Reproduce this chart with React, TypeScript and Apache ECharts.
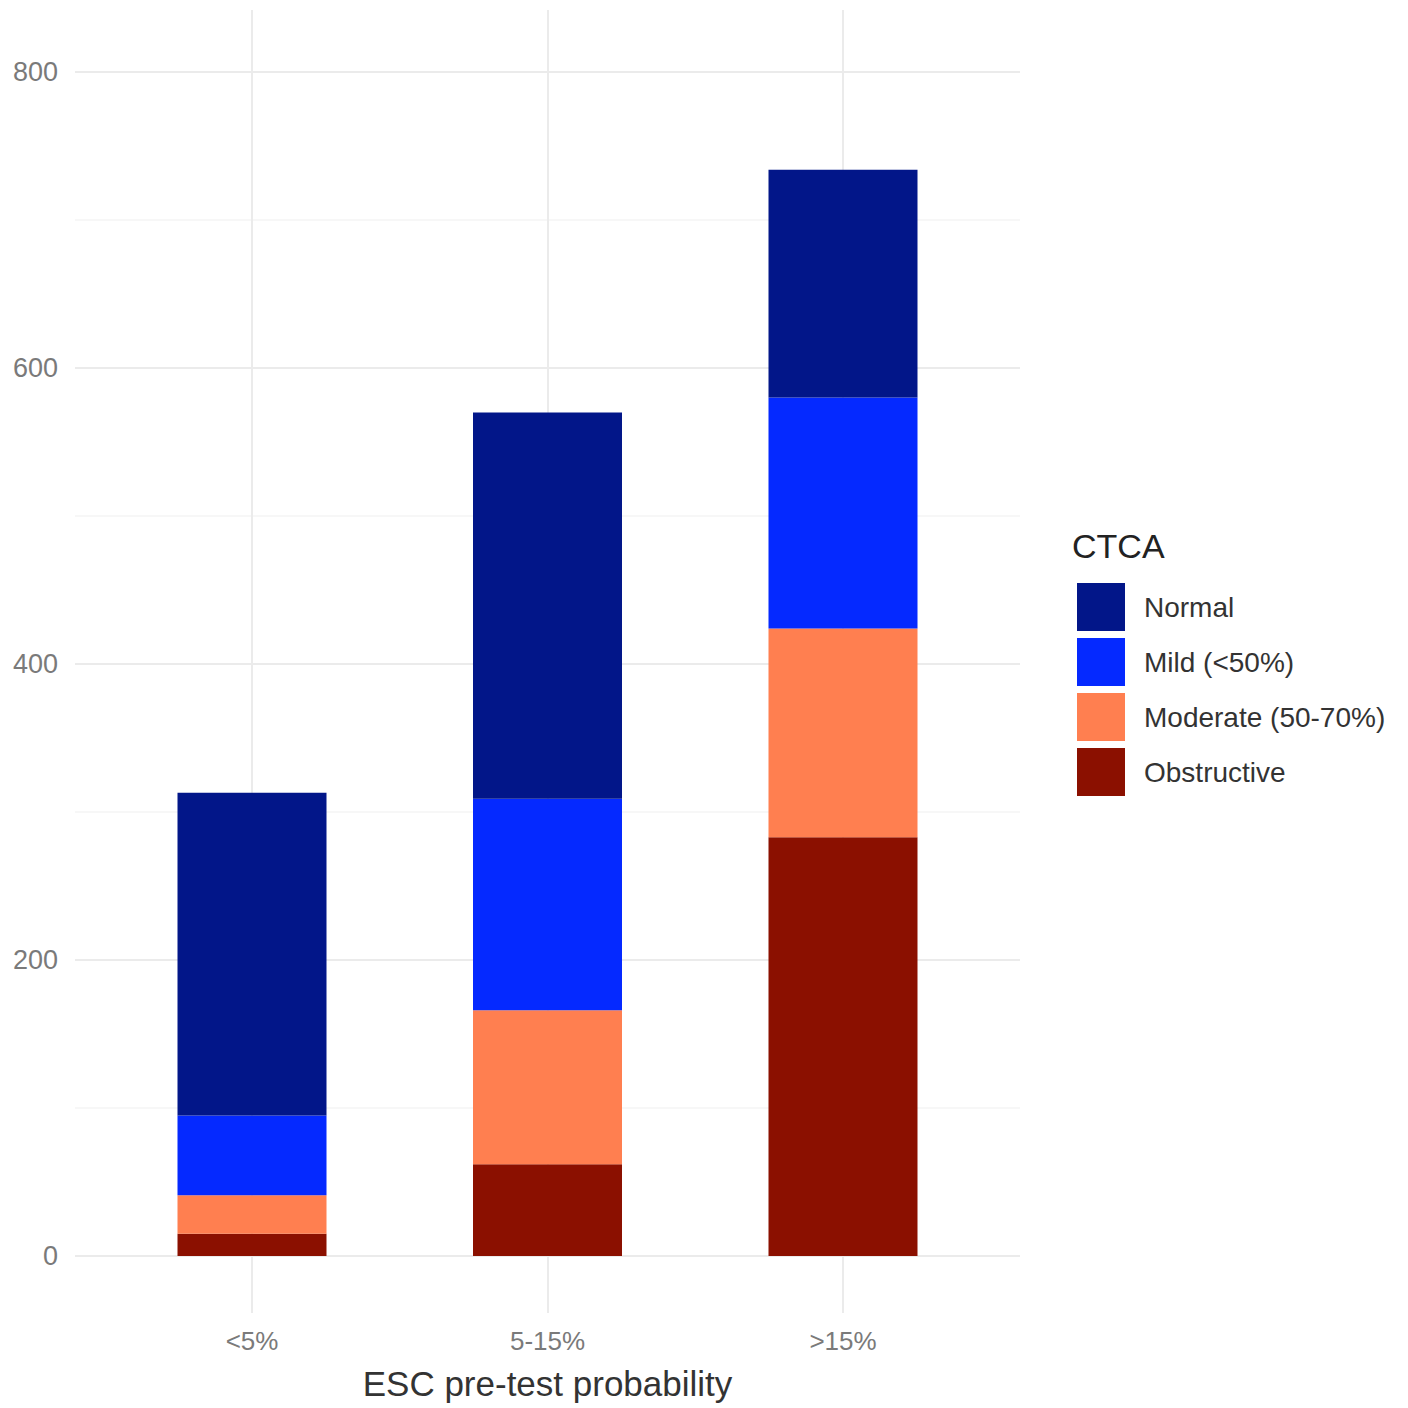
import React, { useEffect, useRef } from "react";
import * as echarts from "echarts";

const categories = ["<5%", "5-15%", ">15%"];
const obstructive = [15, 62, 283];
const moderate = [26, 104, 141];
const mild = [54, 143, 156];
const normal = [218, 261, 154];
const yTicks = [0, 200, 400, 600, 800];
const legendOrder = ["Normal", "Mild (<50%)", "Moderate (50-70%)", "Obstructive"];

const COLORS: Record<string, string> = {
  Normal: "#021689",
  "Mild (<50%)": "#0529FF",
  "Moderate (50-70%)": "#FF7F50",
  Obstructive: "#8B1000",
};

const FONT = "Liberation Sans, Arial, sans-serif";

export default function App() {
  const ref = useRef<HTMLDivElement>(null);
  useEffect(() => {
    document.body.style.margin = "0";
    const chart = echarts.init(ref.current!, null, { renderer: "svg" });
    const W = 1408;
    const barLeft = 104.25;
    const barRight = W - 990.75;
    const seriesDefs = [
      { name: "Obstructive", data: obstructive },
      { name: "Moderate (50-70%)", data: moderate },
      { name: "Mild (<50%)", data: mild },
      { name: "Normal", data: normal },
    ];
    chart.setOption({
      animation: false,
      backgroundColor: "#ffffff",
      textStyle: { fontFamily: FONT },
      title: {
        text: "CTCA",
        left: 1072,
        top: 529,
        padding: 0,
        textStyle: { fontSize: 34, fontWeight: "normal", color: "#222222", fontFamily: FONT },
      },
      legend: {
        data: legendOrder,
        orient: "vertical",
        left: 1077,
        top: 583,
        padding: 0,
        itemWidth: 48,
        itemHeight: 48,
        itemGap: 7,
        icon: "rect",
        selectedMode: false,
        textStyle: { fontSize: 28, color: "#333333", padding: [0, 0, 0, 14], fontFamily: FONT },
      },
      grid: [
        { left: 75, right: W - 1020, top: 72, bottom: W - 1256, containLabel: false, outerBoundsMode: "none" },
        { left: barLeft, right: barRight, top: 72, bottom: W - 1256, containLabel: false, outerBoundsMode: "none" },
        { left: barLeft, right: barRight, top: 10, bottom: W - 1313, containLabel: false, outerBoundsMode: "none" },
      ],
      xAxis: [
        { gridIndex: 0, type: "value", min: 0, max: 1, show: false },
        {
          gridIndex: 1,
          type: "category",
          data: categories,
          axisLine: { show: false },
          axisTick: { show: false },
          splitLine: { show: false },
          axisLabel: { fontSize: 26, color: "#7a7a7a", margin: 72 },
          name: "ESC pre-test probability",
          nameLocation: "middle",
          nameGap: 110,
          nameTextStyle: { fontSize: 35, color: "#333333" },
        },
        { gridIndex: 2, type: "category", data: categories, show: false },
      ],
      yAxis: [
        {
          gridIndex: 0,
          type: "value",
          min: 0,
          max: 800,
          interval: 200,
          axisLine: { show: false },
          axisTick: { show: false },
          axisLabel: {
            fontSize: 27,
            color: "#7a7a7a",
            margin: 17,
            formatter: (v: number) => (yTicks.includes(v) ? String(v) : ""),
          },
          splitLine: { show: true, lineStyle: { color: "#ebebeb", width: 2 } },
          minorTick: { show: false, splitNumber: 2 },
          minorSplitLine: { show: true, lineStyle: { color: "#f4f4f4", width: 1.5 } },
        },
        { gridIndex: 1, type: "value", min: 0, max: 800, show: false },
        { gridIndex: 2, type: "value", min: 0, max: 1, show: false },
      ],
      series: [
        {
          type: "line",
          xAxisIndex: 2,
          yAxisIndex: 2,
          data: [0, 0, 0],
          symbol: "none",
          silent: true,
          z: 1,
          lineStyle: { opacity: 0 },
          markLine: {
            silent: true,
            z: 1,
            symbol: ["none", "none"],
            label: { show: false },
            lineStyle: { color: "#ebebeb", width: 2, type: "solid" },
            data: categories.map((c) => ({ xAxis: c })),
          },
        },
        ...seriesDefs.map((s) => ({
          name: s.name,
          type: "bar",
          stack: "total",
          xAxisIndex: 1,
          yAxisIndex: 1,
          barWidth: 149,
          z: 3,
          itemStyle: { color: COLORS[s.name] },
          data: s.data,
        })),
      ],
    });
    return () => chart.dispose();
  }, []);
  return <div ref={ref} style={{ width: 1408, height: 1408 }} />;
}
